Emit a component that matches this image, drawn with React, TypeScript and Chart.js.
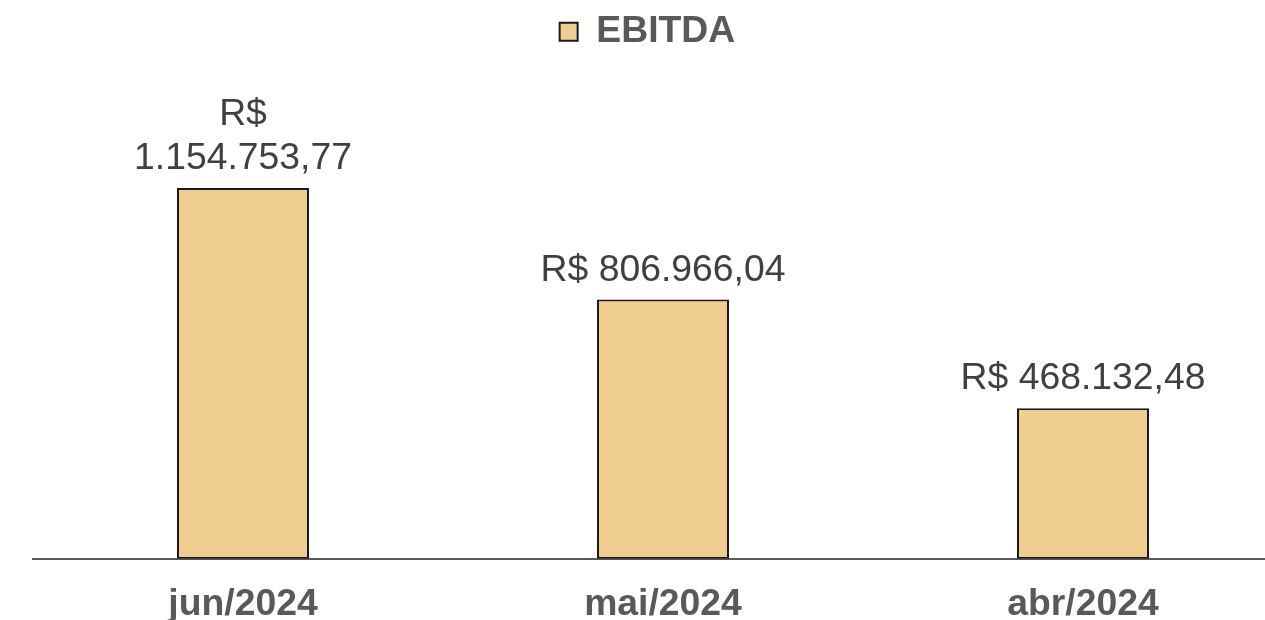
import React, { useEffect, useRef } from "react";
import { Chart, registerables } from "chart.js";

Chart.register(...registerables);

const categories = ["jun/2024", "mai/2024", "abr/2024"];
const ebitdaValues = [1154753.77, 806966.04, 468132.48];
const seriesLabel = "EBITDA";
const yMax = 1552000;

const FONT = "'Liberation Sans', Arial, sans-serif";
const FS = 37.33;

function formatBRL(v: number): string {
  const fixed = v.toFixed(2);
  const [intPart, dec] = fixed.split(".");
  const withDots = intPart.replace(/\B(?=(\d{3})+(?!\d))/g, ".");
  return "R$ " + withDots + "," + dec;
}

const valueLabelPlugin = {
  id: "valueLabels",
  afterDatasetsDraw(chart: any) {
    const ctx = chart.ctx;
    const meta = chart.getDatasetMeta(0);
    const data = chart.data.datasets[0].data as number[];
    ctx.save();
    ctx.font = `${FS}px ${FONT}`;
    ctx.fillStyle = "#404040";
    ctx.textAlign = "center";
    ctx.textBaseline = "alphabetic";
    const lineH = 44;
    meta.data.forEach((bar: any, i: number) => {
      const text = formatBRL(data[i]);
      let lines = [text];
      if (ctx.measureText(text).width > 260) {
        const idx = text.indexOf(" ");
        lines = [text.slice(0, idx), text.slice(idx + 1)];
      }
      const baseY = bar.y - 19;
      lines.forEach((ln, k) => {
        ctx.fillText(ln, bar.x, baseY - (lines.length - 1 - k) * lineH);
      });
    });
    ctx.restore();
  },
};

export default function App() {
  const ref = useRef<HTMLCanvasElement | null>(null);
  useEffect(() => {
    document.body.style.margin = "0";
    const canvas = ref.current!;
    const chart = new Chart(canvas, {
      type: "bar",
      data: {
        labels: categories,
        datasets: [
          {
            label: seriesLabel,
            data: ebitdaValues,
            backgroundColor: "#F0CD91",
            borderColor: "#1a1a1a",
            borderWidth: 2,
            borderSkipped: false,
            barPercentage: 0.3143,
            categoryPercentage: 1,
          },
        ],
      },
      options: {
        responsive: false,
        animation: false,
        layout: { padding: { left: 33, right: 7, top: 0, bottom: -30 } },
        plugins: {
          legend: {
            display: true,
            position: "top",
            labels: {
              boxWidth: 18,
              boxHeight: 18,
              padding: 13,
              color: "#595959",
              font: { family: FONT, size: FS, weight: "bold" },
              generateLabels: (chart: any) => {
                const items = Chart.defaults.plugins.legend.labels.generateLabels(chart);
                return items.map((it: any) => ({ ...it, text: it.text + "   " }));
              },
            },
          },
          tooltip: { enabled: false },
        },
        scales: {
          x: {
            grid: { display: false, drawTicks: false },
            border: { display: true, color: "#595959", width: 2 },
            ticks: {
              color: "#595959",
              padding: 27,
              font: { family: FONT, size: FS, weight: "bold", lineHeight: 1.0 },
            },
          },
          y: {
            display: false,
            min: 0,
            max: yMax,
          },
        },
      },
      plugins: [valueLabelPlugin],
    });
    return () => chart.destroy();
  }, []);
  return (
    <div style={{ width: 1265, height: 620, overflow: "hidden" }}>
      <canvas ref={ref} width={1300} height={620} style={{ display: "block" }} />
    </div>
  );
}
